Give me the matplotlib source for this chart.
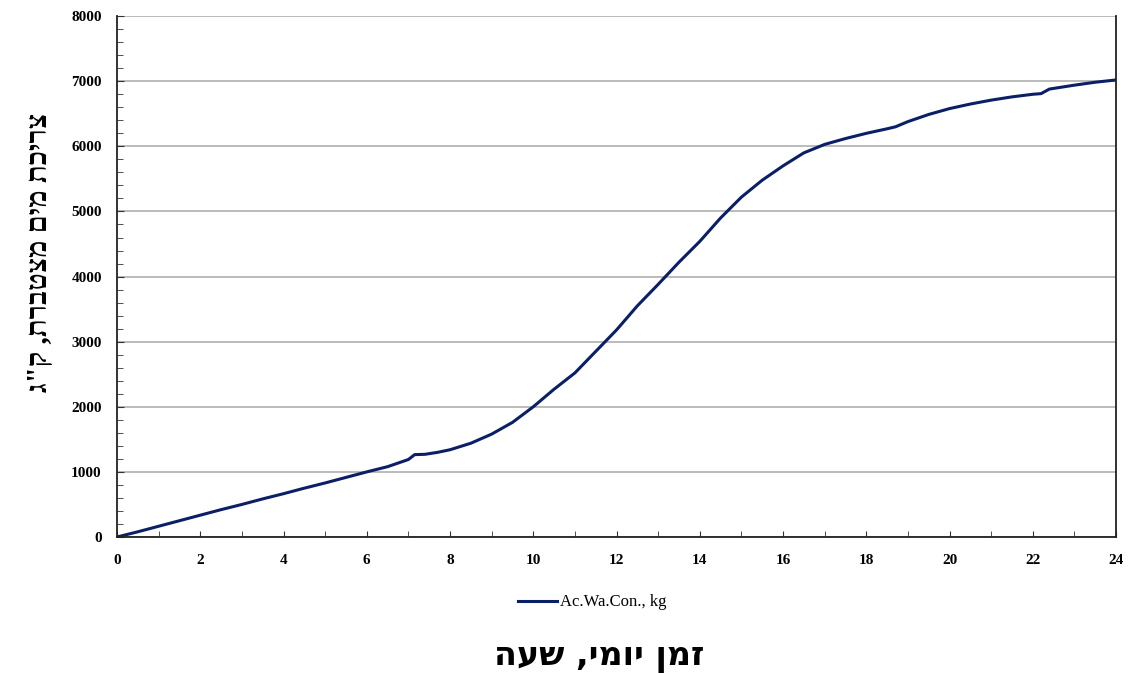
import numpy as np
import matplotlib.pyplot as plt
from matplotlib.ticker import MultipleLocator

# daily time (hours) and cumulative water consumption (kg)
hours = [0, 0.5, 1, 1.5, 2, 2.5, 3, 3.5, 4, 4.5, 5, 5.5, 6, 6.5, 7, 7.15, 7.4,
         7.7, 8, 8.5, 9, 9.5, 10, 10.5, 11, 11.5, 12, 12.5, 13, 13.5, 14,
         14.5, 15, 15.5, 16, 16.5, 17, 17.5, 18, 18.5, 18.7, 19, 19.5, 20,
         20.5, 21, 21.5, 22, 22.2, 22.4, 23, 23.5, 24]
water = [0, 80, 165, 250, 335, 420, 500, 585, 665, 750, 830, 915, 1000, 1080,
         1190, 1265, 1270, 1300, 1340, 1440, 1580, 1760, 2000, 2270, 2520,
         2850, 3180, 3550, 3880, 4220, 4540, 4900, 5220, 5480, 5700, 5900,
         6030, 6120, 6200, 6270, 6300, 6380, 6490, 6580, 6650, 6710, 6760,
         6800, 6810, 6880, 6940, 6985, 7020]

series_name = 'Ac.Wa.Con., kg'
xlabel = 'זמן יומי, שעה'
ylabel = 'צריכת מים מצטברת, ק"ג'

plt.rcParams['font.family'] = ['Liberation Serif', 'DejaVu Serif']

fig = plt.figure(figsize=(11.33, 6.73), dpi=100)
ax = fig.add_axes([0.1033, 0.2021, 0.8817, 0.7739])

ax.plot(hours, water, color='#0b1f66', lw=2.2, label=series_name)

ax.set_xlim(0, 24)
ax.set_ylim(0, 8000)
ax.xaxis.set_major_locator(MultipleLocator(2))
ax.xaxis.set_minor_locator(MultipleLocator(1))
ax.yaxis.set_major_locator(MultipleLocator(1000))
ax.yaxis.set_minor_locator(MultipleLocator(200))
ax.yaxis.grid(True, which='major', color='#a8a8a8', lw=1.1)
ax.set_axisbelow(True)

ax.tick_params(axis='both', which='both', direction='in', color='#333333')
ax.tick_params(axis='x', which='both', length=4, pad=12)
ax.tick_params(axis='y', which='major', length=5, pad=11)
ax.tick_params(axis='y', which='minor', length=4)
for lab in ax.get_xticklabels() + ax.get_yticklabels():
    lab.set_fontsize(11)
    lab.set_fontweight('bold')

ax.spines['top'].set_visible(False)
for s in ['left', 'bottom', 'right']:
    ax.spines[s].set_linewidth(1.3)
    ax.spines[s].set_color('#222222')

leg = fig.legend(loc='center', bbox_to_anchor=(0.523, 0.105), frameon=False,
                 prop={'size': 12}, handlelength=2.3, handletextpad=0.2)

# matplotlib has no bidi, so Hebrew goes in visual order
fig.text(0.529, 0.025, xlabel[::-1], ha='center', va='center', fontsize=24,
         fontweight='bold', family=['DejaVu Sans'])
fig.text(0.035, 0.625, ylabel[::-1], ha='center', va='center', fontsize=21,
         fontweight='bold', family=['Liberation Serif', 'DejaVu Sans'],
         rotation=90)

fig.savefig('out.png', dpi=100)
